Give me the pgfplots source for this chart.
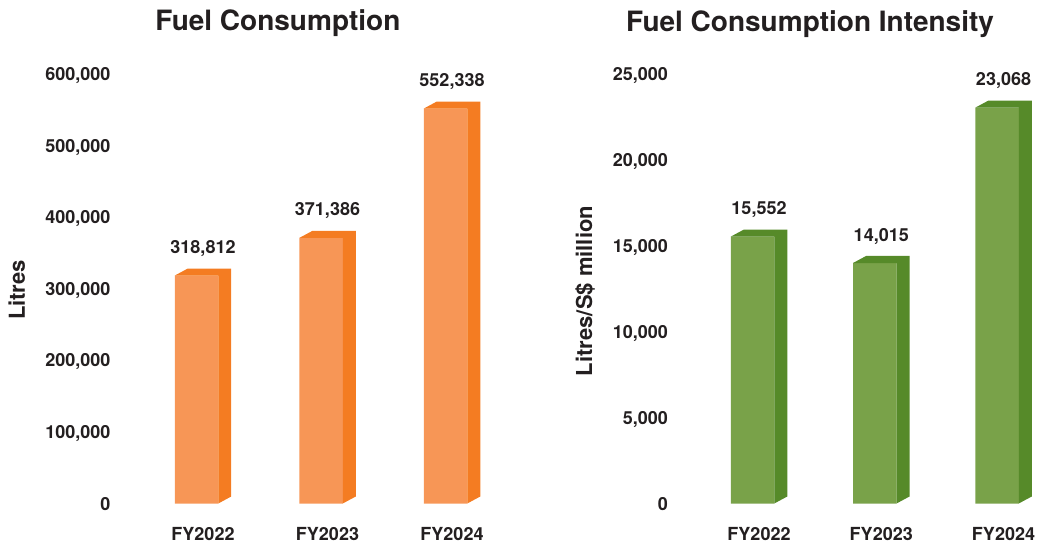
\documentclass[border=0pt]{standalone}
\usepackage{fontspec}
\setmainfont{TeX Gyre Heros}
\usepackage{pgfplots}
\usepackage{pgfplotstable}
\pgfplotsset{compat=1.18}
\definecolor{txt}{HTML}{231F20}
\definecolor{orfront}{HTML}{F79656}
\definecolor{orside}{HTML}{F47C22}
\definecolor{grfront}{HTML}{79A249}
\definecolor{grside}{HTML}{568A29}

\pgfplotstableread{
x y
0 318812
1 371386
2 552338
}\fuel
\pgfplotstableread{
x y
0 15552
1 14015
2 23068
}\intensity
% polygon template for the top + side faces of a 3D bar
\pgfplotstableread{
h d t
-1 0 1
-1 1 1
1 1 1
1 1 0
1 0 0
1 0 1
}\facetmpl

\newcommand{\fnt}[1]{\fontsize{#1}{#1}\selectfont\bfseries}

\pgfplotsset{barchart/.style={
  scale only axis, clip=false,
  separate axis lines,
  axis line style={draw=none}, tick style={draw=none},
  ymin=0, xtick={0,1,2}, xticklabels={FY2022,FY2023,FY2024},
  scaled y ticks=false,
  /pgf/number format/fixed, /pgf/number format/precision=0,
  /pgf/number format/1000 sep={,}, /pgf/number format/assume math mode=true,
  tick label style={font=\fnt{18}, text=txt},
  yticklabel style={anchor=base east, inner sep=0pt, xshift=-5pt, yshift=-6.5pt},
  xticklabel style={anchor=base, inner sep=0pt, yshift=-36.5pt, xshift=6.5pt},
  title style={font=\fnt{28}, text=txt, anchor=base, inner sep=0pt, yshift=0pt},
  ylabel style={font=\fnt{22}, text=txt, anchor=base, inner sep=0pt},
}}

\begin{document}
\begin{tikzpicture}
\useasboundingbox (0,0) rectangle (1038pt,543pt);
\begin{axis}[barchart, at={(115.575pt,39.5pt)}, anchor=south west,
  width=410.85pt, height=429pt, xmin=-0.65, xmax=2.65, ymax=600000,
  ytick={0,100000,200000,300000,400000,500000,600000},
  title={Fuel Consumption},
  title style={at={(axis description cs:0.395,1.0874)}},
  ylabel={Litres},
  ylabel style={at={(axis description cs:-0.2205,0.4977)}}]
\addplot[ybar, bar width=43.5pt, fill=orfront, draw=none,
  nodes near coords,
  every node near coord/.append style={font=\fnt{18}, text=txt, anchor=base, inner sep=0pt, xshift=6.5pt, yshift=22pt}]
  table[x=x,y=y]{\fuel};
\pgfplotsinvokeforeach{0,1,2}{
  \pgfplotstablegetelem{#1}{y}\of\fuel
  \edef\tmp{\noexpand\addplot[fill=orside, draw=none, forget plot]
    table[x expr={#1+\noexpand\thisrow{h}*0.1747+\noexpand\thisrow{d}*0.1044},
          y expr={\noexpand\thisrow{t}*\pgfplotsretval+\noexpand\thisrow{d}*9790}]
    {\noexpand\facetmpl};}
  \tmp
}
\end{axis}
\begin{axis}[barchart, at={(673.04pt,39.5pt)}, anchor=south west,
  width=360.64pt, height=429pt, xmin=-0.65, xmax=2.3, ymax=25000,
  ytick={0,5000,10000,15000,20000,25000},
  title={Fuel Consumption Intensity},
  title style={at={(axis description cs:0.3798,1.0874)}},
  ylabel={Litres/S\$ million},
  ylabel style={at={(axis description cs:-0.2247,0.4953)}}]
\addplot[ybar, bar width=43.5pt, fill=grfront, draw=none,
  nodes near coords,
  every node near coord/.append style={font=\fnt{18}, text=txt, anchor=base, inner sep=0pt, xshift=6.5pt, yshift=22pt}]
  table[x=x,y=y]{\intensity};
\pgfplotsinvokeforeach{0,1,2}{
  \pgfplotstablegetelem{#1}{y}\of\intensity
  \edef\tmp{\noexpand\addplot[fill=grside, draw=none, forget plot]
    table[x expr={#1+\noexpand\thisrow{h}*0.1779+\noexpand\thisrow{d}*0.1063},
          y expr={\noexpand\thisrow{t}*\pgfplotsretval+\noexpand\thisrow{d}*408}]
    {\noexpand\facetmpl};}
  \tmp
}
\end{axis}
\end{tikzpicture}
\end{document}
